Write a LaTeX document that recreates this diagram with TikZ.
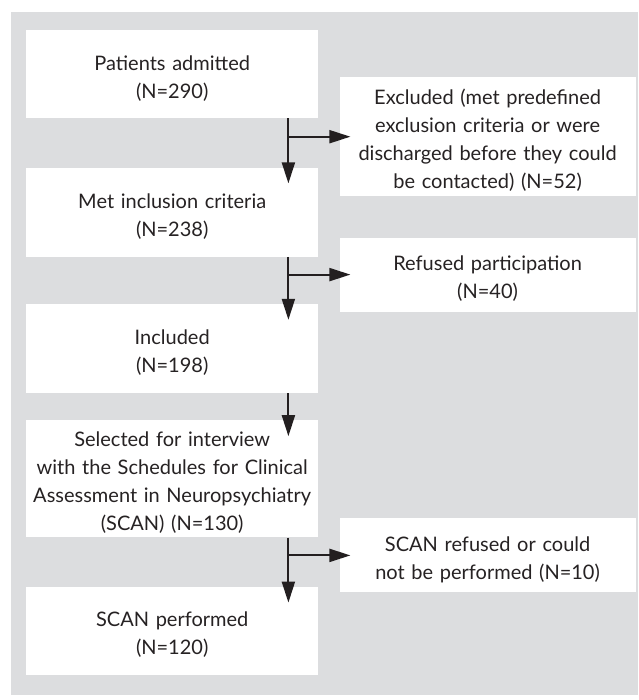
\documentclass[tikz,border=0pt]{standalone}
\usepackage{fontspec}
\setmainfont{Lato}
\usepackage{tikz}
\usetikzlibrary{arrows.meta, positioning}
\definecolor{panel}{RGB}{220,221,223}
\definecolor{ink}{RGB}{35,31,32}
\definecolor{txt}{RGB}{38,34,35}
\tikzset{
    box/.style={rectangle, fill=white, inner sep=0pt, align=center, text=txt, font=\fontsize{20}{28}\selectfont,
        execute at begin node={\rule{0pt}{23pt}}},
    leftbox/.style={box, minimum width=292pt, text width=288pt},
    rightbox/.style={box, minimum width=296pt, text width=292pt},
    arrow/.style={line width=2pt, draw=ink, -{Triangle[length=21pt, width=13pt]}}
}
\begin{document}
\begin{tikzpicture}

    % Panel
    \useasboundingbox (0,0) rectangle (638pt,-700pt);
    \fill[panel] (11pt,-12pt) rectangle (638pt,-695pt);

    % Nodes
    \node[leftbox, anchor=north west, minimum height=88pt] (B1) at (26pt,-30pt) {Patients admitted\\(N=290)};
    \node[leftbox, below=49pt of B1, minimum height=89pt] (B2) {Met inclusion criteria\\(N=238)};
    \node[leftbox, below=47pt of B2, minimum height=89pt] (B3) {Included\\(N=198)};
    \node[leftbox, below=27pt of B3, minimum height=117pt] (B4) {Selected for interview\\with the Schedules for Clinical\\Assessment in Neuropsychiatry\\(SCAN) (N=130)};
    \node[leftbox, below=49pt of B4, minimum height=88pt] (B5) {SCAN performed\\(N=120)};

    % Side boxes
    \node[rightbox, below right=47pt and 21pt of B1.north east, minimum height=119pt] (R1) {Excluded (met predefined\\exclusion criteria or were\\discharged before they could\\be contacted) (N=52)};
    \node[rightbox, below right=70pt and 21pt of B2.north east, minimum height=74pt] (R2) {Refused participation\\(N=40)};
    \node[rightbox, below right=98pt and 21pt of B4.north east, minimum height=74pt] (R3) {SCAN refused or could\\not be performed (N=10)};

    % Arrows
    \coordinate (spine) at ([xshift=-30pt]B1.south east);
    \draw[arrow, shorten >=-16pt] (B1.south -| spine) -- (B2.north -| spine);
    \draw[arrow, shorten >=-16pt] (B2.south -| spine) -- (B3.north -| spine);
    \draw[arrow, shorten >=-16pt] (B3.south -| spine) -- (B4.north -| spine);
    \draw[arrow, shorten >=-16pt] (B4.south -| spine) -- (B5.north -| spine);
    \draw[arrow, shorten >=-11pt] (R1.west -| spine) -- (R1.west);
    \draw[arrow, shorten >=-11pt] (R2.west -| spine) -- (R2.west);
    \draw[arrow, shorten >=-11pt] (R3.west -| spine) -- (R3.west);

\end{tikzpicture}
\end{document}
